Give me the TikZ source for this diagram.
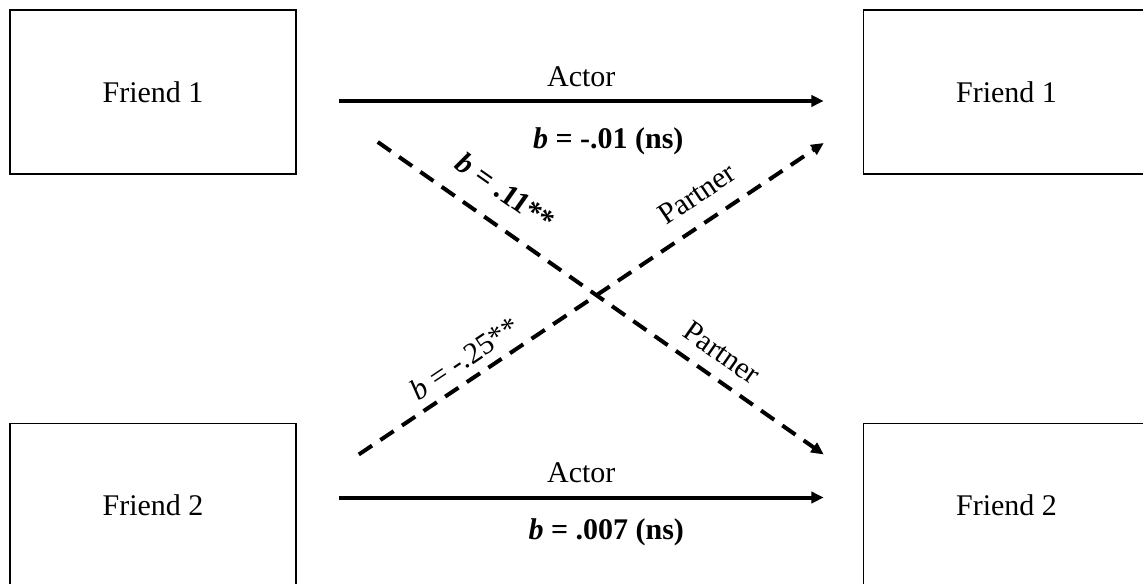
\documentclass[tikz,border=0pt]{standalone}
\usepackage{fontspec}
\setmainfont{Liberation Serif}
\usetikzlibrary{arrows.meta,positioning}

\begin{document}
\begin{tikzpicture}[x=0.4pt, y=-0.4pt,
      box/.style={draw, line width=0.6pt, minimum width=114.4pt, minimum height=65.6pt,
                  font=\fontsize{12pt}{14pt}\selectfont},
      act/.style={-{Triangle[length=5pt,width=4.5pt]}, line width=1.6pt},
      ptn/.style={act, dash pattern=on 6.4pt off 4pt},
      lbl/.style={font=\fontsize{12pt}{14pt}\selectfont, inner sep=1pt}
    ]
      \useasboundingbox (0,0) rectangle (1143,584);

      \node[box] (f1in) at (153,92) {Friend 1};
      \node[box, right=226.4pt of f1in] (f1out) {Friend 1};
      \node[box, below=99.2pt of f1in] (f2in) {Friend 2};
      \node[box, right=226.4pt of f2in] (f2out) {Friend 2};

      % actor effects
      \draw[act] ([shift={(42,9)}]f1in.east) -- ([shift={(-39,9)}]f1out.west)
        node[lbl, midway, above=4pt] (act1) {Actor}
        node[lbl, midway, below=9pt, xshift=10.8pt] (b1) {\textbf{\textit{b} = -.01 (ns)}};
      \draw[act] ([shift={(42,-8)}]f2in.east) -- ([shift={(-39,-8)}]f2out.west)
        node[lbl, midway, above=4pt] (act2) {Actor}
        node[lbl, midway, below=6.5pt, xshift=10pt] (b2) {\textbf{\textit{b} = .007 (ns)}};

      % partner effects
      \draw[ptn] ([shift={(81,50)}]f1in.east) -- ([shift={(-39,-51)}]f2out.west)
        node[lbl, sloped, pos=0.245, above=7pt] (b3) {\textbf{\textit{b} = .11**}}
        node[lbl, sloped, pos=0.74, above=4.2pt] (ptn1) {Partner};
      \draw[ptn] ([shift={(62,-51)}]f2in.east) -- ([shift={(-39,51)}]f1out.west)
        node[lbl, sloped, pos=0.253, above=2.5pt] (b4) {\textit{b} = -.25**}
        node[lbl, sloped, pos=0.761, above=5.6pt] (ptn2) {Partner};
    \end{tikzpicture}
\end{document}
